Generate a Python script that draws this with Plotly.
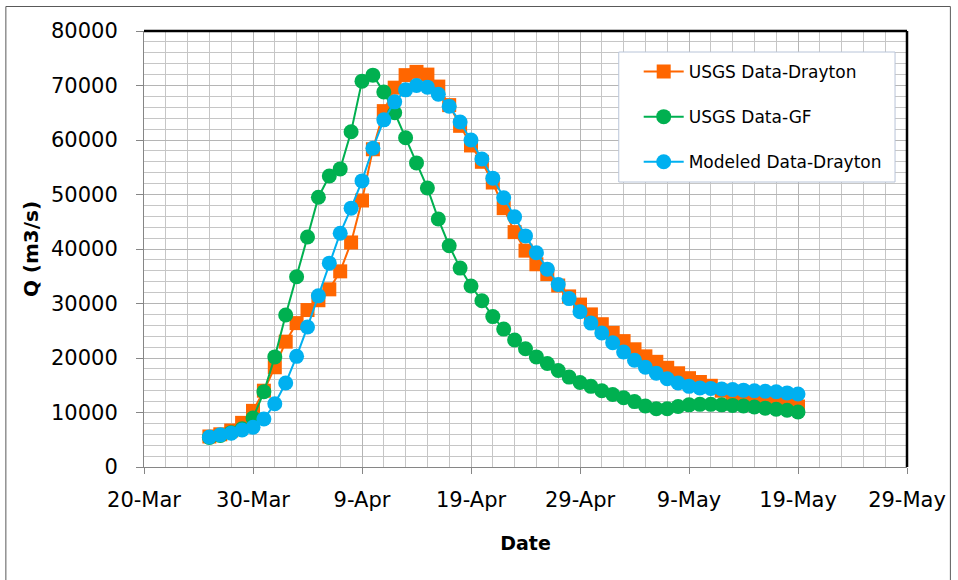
import plotly.graph_objects as go
import pandas as pd

dates = pd.date_range("2011-03-26", "2011-05-19", freq="D")

usgs_drayton = [5600, 6000, 6700, 8100, 10300, 14000, 18300, 23000, 26400, 28800,
                30600, 32600, 35900, 41200, 48900, 58300, 65300, 69600, 71900, 72500,
                72000, 69800, 66400, 62600, 59000, 56000, 52200, 47500, 43100, 39700,
                37200, 35400, 33300, 31300, 29800, 28000, 26200, 24600, 23100, 21600,
                20300, 19300, 18200, 17200, 16300, 15600, 14900, 14000, 13400, 13000,
                12600, 12200, 11800, 11400, 11100]

usgs_gf = [5400, 5800, 6300, 7000, 9000, 13800, 20200, 27900, 34900, 42200,
           49500, 53400, 54700, 61500, 70800, 71900, 68800, 65000, 60400, 55800,
           51200, 45500, 40600, 36500, 33200, 30500, 27600, 25300, 23300, 21700,
           20200, 19000, 17700, 16500, 15500, 14800, 14000, 13300, 12700, 12000,
           11200, 10700, 10700, 11100, 11400, 11500, 11500, 11400, 11300, 11200,
           11000, 10800, 10600, 10400, 10100]

modeled_drayton = [5500, 5900, 6200, 6800, 7300, 8800, 11600, 15400, 20300, 25700,
                   31400, 37400, 42900, 47500, 52500, 58500, 63700, 67000, 69200, 70000,
                   69700, 68400, 66200, 63300, 60000, 56500, 53000, 49400, 45900, 42400,
                   39300, 36300, 33500, 30900, 28500, 26400, 24600, 22800, 21100, 19600,
                   18300, 17200, 16200, 15400, 14800, 14500, 14400, 14300, 14200, 14100,
                   14000, 13900, 13800, 13600, 13400]

series_names = ["USGS Data-Drayton", "USGS Data-GF", "Modeled Data-Drayton"]
colors = ["#FF6600", "#00B050", "#00B0F0"]
symbols = ["square", "circle", "circle"]
sizes = [14, 15, 15]
values = [usgs_drayton, usgs_gf, modeled_drayton]

W, H = 958, 580
L, R, T, B = 144, 49, 31, 113
PW, PH = W - L - R, H - T - B

def px_x(px):
    return (px - L) / PW

def px_y(py):
    return (H - B - py) / PH

fig = go.Figure()
for i in range(3):
    fig.add_trace(go.Scatter(
        x=dates, y=values[i], name=series_names[i], mode="lines+markers",
        line=dict(color=colors[i], width=2),
        marker=dict(symbol=symbols[i], size=sizes[i], color=colors[i]),
        legendgroup=str(i),
    ))

DAY = 86400000
font_family = "DejaVu Sans"

fig.update_layout(
    width=W, height=H,
    margin=dict(l=L, r=R, t=T, b=B),
    paper_bgcolor="white", plot_bgcolor="white",
    font=dict(family=font_family, color="#000000"),
    showlegend=True,
    legend=dict(
        x=px_x(640), y=px_y(54), xanchor="left", yanchor="top",
        bgcolor="rgba(0,0,0,0)", borderwidth=0,
        font=dict(size=17, family=font_family, color="#000000"),
        tracegroupgap=20, traceorder="grouped",
        itemwidth=40,
    ),
    xaxis=dict(
        type="date",
        range=["2011-03-20", "2011-05-29"],
        tick0="2011-03-20", dtick=10 * DAY,
        tickformat="%-d-%b",
        showgrid=True, gridcolor="#b5b5b5", gridwidth=1,
        minor=dict(dtick=2 * DAY, tick0="2011-03-20", showgrid=True,
                   gridcolor="#c6c6c6", gridwidth=1),
        showline=True, linecolor="#868686", linewidth=1,
        ticks="outside", ticklen=6, tickcolor="#868686",
        tickfont=dict(size=21, family=font_family),
        ticklabelstandoff=8,
        title=dict(text="<b>Date</b>", font=dict(size=19, family=font_family), standoff=25),
        zeroline=False,
    ),
    yaxis=dict(
        range=[0, 80000], dtick=10000, tick0=0, tickformat="d",
        showgrid=True, gridcolor="#b5b5b5", gridwidth=1,
        minor=dict(dtick=2000, showgrid=True, gridcolor="#c6c6c6", gridwidth=1),
        showline=True, linecolor="#868686", linewidth=1,
        ticks="outside", ticklen=7, tickcolor="#868686",
        tickfont=dict(size=21, family=font_family),
        ticklabelstandoff=14,
        title=dict(text="<b>Q (m3/s)</b>", font=dict(size=20, family=font_family), standoff=6),
        zeroline=False,
    ),
)

# top and right black plot borders
fig.add_shape(type="line", xref="paper", yref="paper", x0=0, x1=1, y0=1, y1=1,
              line=dict(color="#000000", width=2.5), layer="above")
fig.add_shape(type="line", xref="paper", yref="paper", x0=1, x1=1, y0=0, y1=1,
              line=dict(color="#000000", width=2.5), layer="above")

# legend box
fig.add_shape(type="rect", xref="paper", yref="paper",
              x0=px_x(620), x1=px_x(897), y0=px_y(182), y1=px_y(52),
              fillcolor="white", line=dict(color="#b8c4d8", width=1), layer="above")

# outer chart border
fig.add_shape(type="rect", xref="paper", yref="paper",
              x0=px_x(5.5), x1=px_x(952.5), y0=px_y(590), y1=px_y(6.5),
              line=dict(color="#595959", width=1), fillcolor="rgba(0,0,0,0)", layer="above")

fig.write_html("out.html")
